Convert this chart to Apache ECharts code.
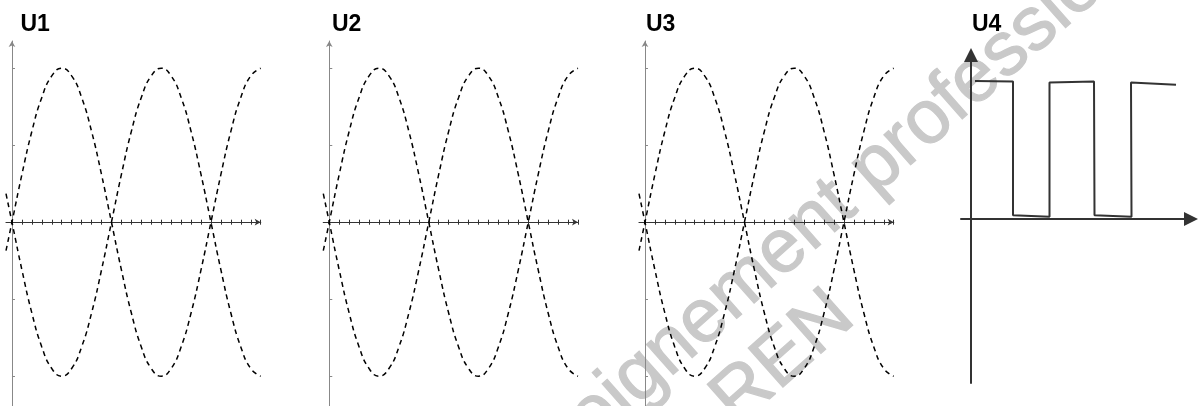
<!DOCTYPE html>
<html>
<head>
<meta charset="utf-8">
<script src="https://cdn.jsdelivr.net/npm/echarts@6/dist/echarts.min.js"></script>
<style>
  html, body { margin: 0; padding: 0; background: #fff; }
  #chart { width: 1198px; height: 406px; }
</style>
</head>
<body>
<div id="chart"></div>
<script>
// ---- data (x in tenths of a half-period, y in volts-like units) ----
const panelTitles = ['U1', 'U2', 'U3', 'U4'];
const xPos = [-0.6, 0, 1, 2, 3, 4, 5, 6, 7, 8, 9, 10, 11, 12, 13, 14, 15, 16, 17, 18, 19, 20, 21, 22, 23, 24, 25];
const curveUp = [-0.37, 0, 0.62, 1.18, 1.62, 1.9, 2, 1.9, 1.62, 1.18, 0.62, 0, -0.62, -1.18, -1.62, -1.9, -2, -1.9, -1.62, -1.18, -0.62, 0, 0.62, 1.18, 1.62, 1.9, 2];
const curveDown = [0.37, 0, -0.62, -1.18, -1.62, -1.9, -2, -1.9, -1.62, -1.18, -0.62, 0, 0.62, 1.18, 1.62, 1.9, 2, 1.9, 1.62, 1.18, 0.62, 0, -0.62, -1.18, -1.62, -1.9, -2];
const xTicks = [0, 1, 2, 3, 4, 5, 6, 7, 8, 9, 10, 11, 12, 13, 14, 15, 16, 17, 18, 19, 20, 21, 22, 23, 24, 25];
const yTicks = [-2, -1, 1, 2];
// square wave of U4
const u4X = [0.4, 4.2, 4.2, 7.85, 7.85, 12.3, 12.35, 16.05, 16.0, 20.5];
const u4Y = [5.0, 4.98, 0.14, 0.08, 4.94, 4.98, 0.14, 0.08, 4.94, 4.86];
const watermarkLines = ['enseignement professionnel', 'REN'];

// ---- layout ----
const panelLefts = [6, 323.3, 639];
const gridTop = 41, gridHeight = 366, gridWidth = 254.7;

const chart = echarts.init(document.getElementById('chart'), null, { renderer: 'canvas' });

const grids = [], xAxes = [], yAxes = [], series = [];
panelLefts.forEach((left, i) => {
  grids.push({ left: left, top: gridTop, width: gridWidth, height: gridHeight, outerBoundsMode: 'none', containLabel: false });
  const mainX = xAxes.length;
  xAxes.push({
    type: 'value', gridIndex: i, min: -0.6, max: 25, position: 'bottom',
    axisLine: { show: true, onZero: true, onZeroAxisIndex: i, symbol: ['none', 'arrow'], symbolSize: [5, 6],
      lineStyle: { color: '#333', width: 1.2 } },
    axisTick: { show: true, length: 2.5, customValues: xTicks, lineStyle: { color: '#333', width: 1 } },
    axisLabel: { show: false }, splitLine: { show: false }
  });
  xAxes.push({
    type: 'value', gridIndex: i, min: -0.6, max: 25, position: 'top',
    axisLine: { show: false, onZero: true, onZeroAxisIndex: i },
    axisTick: { show: true, length: 2.5, customValues: xTicks, lineStyle: { color: '#333', width: 1 } },
    axisLabel: { show: false }, splitLine: { show: false }
  });
  yAxes.push({
    type: 'value', gridIndex: i, min: -2.4, max: 2.353, position: 'left',
    axisLine: { show: true, onZero: true, onZeroAxisIndex: mainX, symbol: ['none', 'arrow'], symbolSize: [5, 6],
      lineStyle: { color: '#888', width: 1 } },
    axisTick: { show: true, inside: true, length: 3, customValues: yTicks, lineStyle: { color: '#888', width: 1 } },
    axisLabel: { show: false }, splitLine: { show: false }
  });
  [curveUp, curveDown].forEach(vals => {
    series.push({
      type: 'line', xAxisIndex: mainX, yAxisIndex: i, showSymbol: false, smooth: true, clip: false,
      data: xPos.map((x, k) => [x, vals[k]]),
      lineStyle: { color: '#000', width: 1.5, type: [5, 4] }
    });
  });
});

// U4 panel
grids.push({ left: 961, top: 55, width: 230, height: 328, outerBoundsMode: 'none', containLabel: false });
const u4XIndex = xAxes.length;
xAxes.push({
  type: 'value', gridIndex: 3, min: -1, max: 22,
  axisLine: { show: true, onZero: true, onZeroAxisIndex: 3, symbol: ['none', 'triangle'], symbolSize: [14, 14],
    lineStyle: { color: '#333', width: 2 } },
  axisTick: { show: false }, axisLabel: { show: false }, splitLine: { show: false }
});
yAxes.push({
  type: 'value', gridIndex: 3, min: -5.94, max: 5.94,
  axisLine: { show: true, onZero: true, onZeroAxisIndex: u4XIndex, symbol: ['none', 'triangle'], symbolSize: [14, 14],
    lineStyle: { color: '#333', width: 2 } },
  axisTick: { show: false }, axisLabel: { show: false }, splitLine: { show: false }
});
series.push({
  type: 'line', xAxisIndex: u4XIndex, yAxisIndex: 3, showSymbol: false, clip: false,
  data: u4X.map((x, k) => [x, u4Y[k]]),
  lineStyle: { color: '#333', width: 2 }
});

const titleLefts = [20.5, 332, 646, 972];
const titles = panelTitles.map((t, i) => ({
  text: t, left: titleLefts[i], top: 13, padding: 0,
  textStyle: { fontFamily: 'Liberation Sans', fontWeight: 'bold', fontSize: 23, color: '#000' }
}));

const wmFont = '76px "Liberation Sans"';
const wmStyle = { font: wmFont, fill: '#c9c9c9', stroke: '#c9c9c9', lineWidth: 1.2, align: 'left', verticalAlign: 'middle' };
chart.setOption({
  animation: false,
  backgroundColor: '#fff',
  title: titles,
  grid: grids,
  xAxis: xAxes,
  yAxis: yAxes,
  series: series,
  graphic: [{
    type: 'group', x: 830, y: 208, rotation: 41.5 * Math.PI / 180, z: -10, silent: true,
    children: [
      { type: 'text', x: -457, y: 0, style: Object.assign({ text: watermarkLines[0] }, wmStyle) },
      { type: 'text', x: -215, y: 82, style: Object.assign({ text: watermarkLines[1] }, wmStyle) }
    ]
  }]
});
</script>
</body>
</html>
